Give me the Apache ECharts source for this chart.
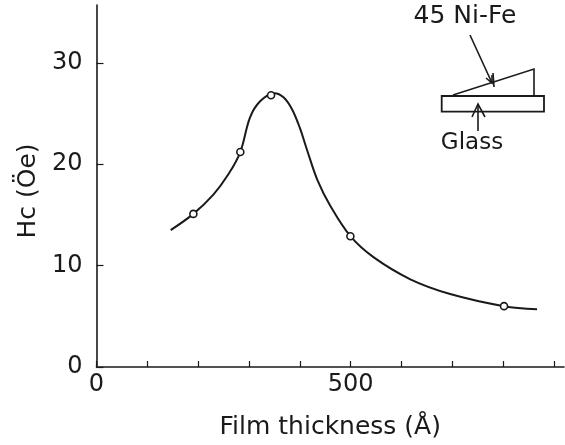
<!DOCTYPE html>
<html><head><meta charset="utf-8">
<style>html,body{margin:0;padding:0;background:#fff}#c{width:565px;height:445px}</style>
<script src="https://cdn.jsdelivr.net/npm/echarts@6/dist/echarts.min.js"></script>
</head><body><div id="c"></div>
<script>
const xLabels = [0,500];
const yTicks = [0,10,20,30];
const curveX = [146,190.6,230,259.5,283,302,322,350,368,385,400,415,435,460,499.6,545,617.6,696,802,867];
const curveY = [13.5,15.1,17,19,21.2,24.6,26.2,27,26.6,25.4,23.6,21.3,18.4,15.9,12.9,10.83,8.65,7.2,6.0,5.7];
const pointX = [190.6,283,343.5,499.6,802];
const pointY = [15.1,21.2,26.8,12.9,6.0];
const xName = 'Film thickness (Å)';
const yName = 'Hc (Öe)';
const insetFilm = '45 Ni-Fe';
const insetGlass = 'Glass';
const ink = '#1a1a1a';
const font = '"DejaVu Sans"';
const chart = echarts.init(document.getElementById('c'),null,{renderer:'canvas'});
function line(pts,w){return {type:'polyline',shape:{points:pts},style:{stroke:ink,lineWidth:w||1.6,fill:null}};}
chart.setOption({
  animation:false,
  backgroundColor:'#fff',
  grid:{left:96.5,top:5,bottom:78,right:1},
  xAxis:{type:'value',min:0,max:920,interval:100,
    name:xName,nameLocation:'middle',nameGap:48,
    nameTextStyle:{fontFamily:font,fontSize:25,color:ink},
    axisLine:{show:true,onZero:false,lineStyle:{color:ink,width:1.6}},
    axisTick:{show:true,inside:true,length:6,lineStyle:{color:ink,width:1.2}},
    axisLabel:{fontFamily:font,fontSize:24,color:ink,margin:6,hideOverlap:false,showMinLabel:true,showMaxLabel:false,
      formatter:v=>xLabels.includes(v)?String(v):''},
    splitLine:{show:false}},
  yAxis:{type:'value',min:0,max:35.7,interval:10,
    name:yName,nameLocation:'middle',nameGap:55,nameRotate:90,
    nameTextStyle:{fontFamily:font,fontSize:25,color:ink,padding:[0,10,0,0]},
    axisLine:{show:true,onZero:false,lineStyle:{color:ink,width:1.6}},
    axisTick:{show:true,inside:true,length:7,customValues:yTicks,lineStyle:{color:ink,width:1.2}},
    axisLabel:{fontFamily:font,fontSize:24,color:ink,margin:14,customValues:yTicks},
    splitLine:{show:false}},
  series:[
    {type:'line',data:curveX.map((x,i)=>[x,curveY[i]]),smooth:0.35,smoothConstraint:false,showSymbol:false,symbol:'none',
      lineStyle:{color:ink,width:2},z:2},
    {type:'scatter',data:pointX.map((x,i)=>[x,pointY[i]]),symbol:'circle',symbolSize:7,
      itemStyle:{color:'#fff',opacity:1,borderColor:ink,borderWidth:1.6},z:3}
  ],
  graphic:[
    {type:'rect',shape:{x:441.7,y:96,width:102.3,height:15.7},style:{stroke:ink,lineWidth:1.8,fill:null}},
    line([[453,95],[534,69],[534,96]]),
    line([[470,35],[492,83]]),
    line([[486,78],[492,83],[492,75]]),
    line([[493,73],[494,87]]),
    line([[478,131],[478,104]]),
    line([[472,117],[478,104],[485,117]]),
    {type:'text',style:{x:465,y:16,text:insetFilm,fontFamily:font,fontSize:25,fill:ink,align:'center',verticalAlign:'middle'}},
    {type:'text',style:{x:472,y:143,text:insetGlass,fontFamily:font,fontSize:23,fill:ink,align:'center',verticalAlign:'middle'}}
  ]
});
</script></body></html>
